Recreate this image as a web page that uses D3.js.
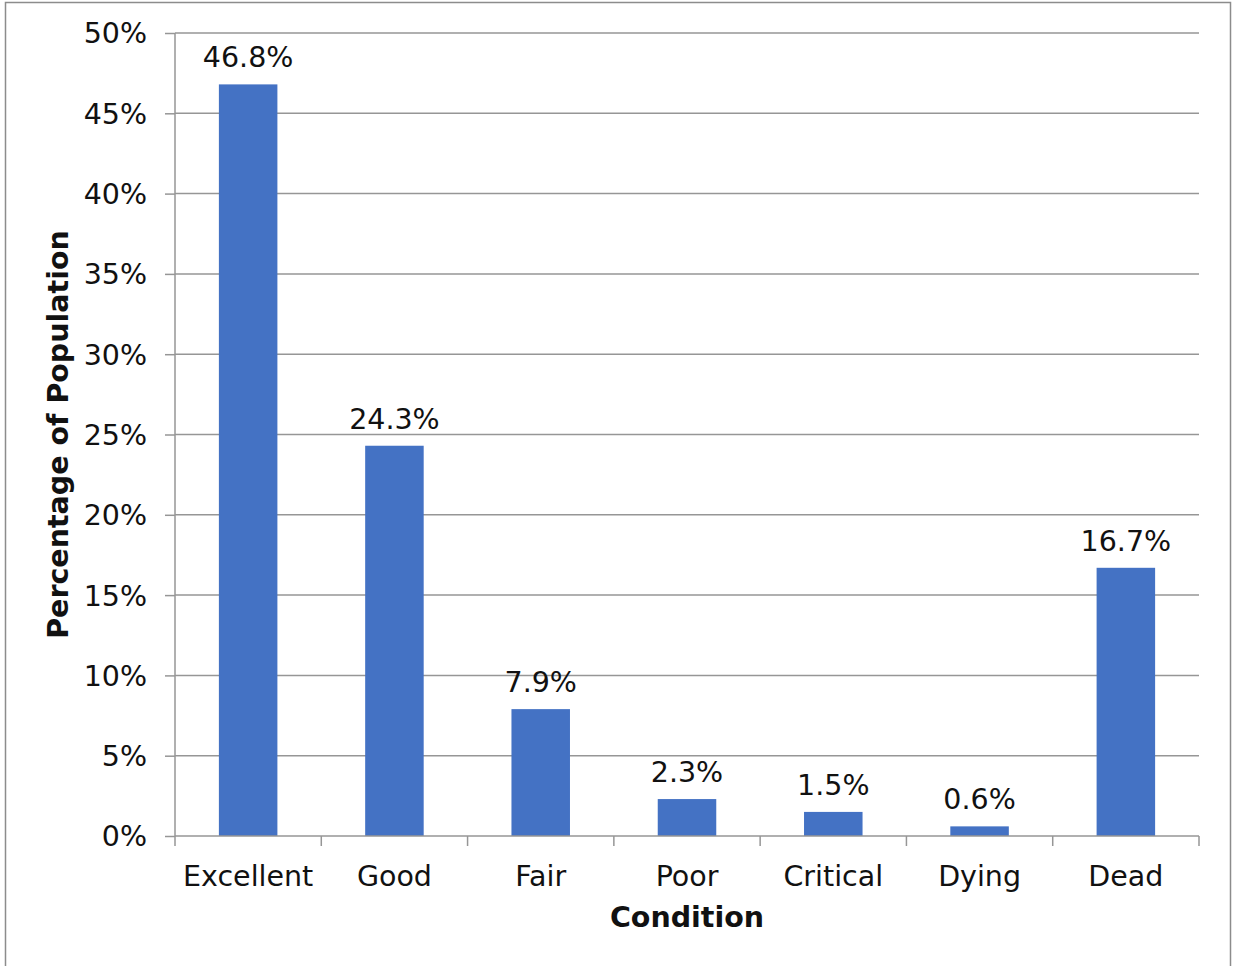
<!DOCTYPE html>
<html>
<head>
<meta charset="utf-8">
<script src="https://cdn.jsdelivr.net/npm/d3@7"></script>
<style>
  body { margin: 0; background: #fff; }
  text { font-family: "DejaVu Sans", Verdana, sans-serif; fill: #111; }
</style>
</head>
<body>
<script>
const width = 1233,
  height = 966;

// data
const conditions = ['Excellent', 'Good', 'Fair', 'Poor', 'Critical', 'Dying', 'Dead'];
const percentages = [46.8, 24.3, 7.9, 2.3, 1.5, 0.6, 16.7];
const yTicks = [0, 5, 10, 15, 20, 25, 30, 35, 40, 45, 50];

const margin = { top: 33, right: 34, bottom: 130, left: 175 };
const fontSize = '28.5px';

const svg = d3
  .select('body')
  .append('svg')
  .attr('width', width)
  .attr('height', height);

// outer chart border (bottom edge runs off the picture)
svg
  .append('rect')
  .attr('x', 5.5)
  .attr('y', 2.5)
  .attr('width', 1225)
  .attr('height', 980)
  .attr('fill', 'none')
  .attr('stroke', '#8c8c8c')
  .attr('stroke-width', 1.5);

const x = d3
  .scaleBand()
  .domain(conditions)
  .range([margin.left, width - margin.right])
  .paddingInner(0.6)
  .paddingOuter(0.3);

const y = d3
  .scaleLinear()
  .domain([0, 50])
  .range([height - margin.bottom, margin.top]);

// gridlines
svg
  .append('g')
  .selectAll('line')
  .data(yTicks.slice(1))
  .join('line')
  .attr('x1', margin.left)
  .attr('x2', width - margin.right)
  .attr('y1', d => y(d))
  .attr('y2', d => y(d))
  .attr('stroke', '#969696')
  .attr('stroke-width', 1.5);

// bars
svg
  .append('g')
  .selectAll('rect')
  .data(percentages)
  .join('rect')
  .attr('x', (d, i) => x(conditions[i]))
  .attr('y', d => y(d))
  .attr('width', x.bandwidth())
  .attr('height', d => y(0) - y(d))
  .attr('fill', '#4472c4');

// value labels
svg
  .append('g')
  .selectAll('text')
  .data(percentages)
  .join('text')
  .attr('x', (d, i) => x(conditions[i]) + x.bandwidth() / 2)
  .attr('y', d => y(d) - 17)
  .attr('text-anchor', 'middle')
  .style('font-size', fontSize)
  .text(d => d.toFixed(1) + '%');

// y axis
const yAxis = svg
  .append('g')
  .attr('transform', `translate(${margin.left},0)`)
  .call(
    d3
      .axisLeft(y)
      .tickValues(yTicks)
      .tickSize(10)
      .tickPadding(18)
      .tickFormat(d => d + '%')
  );
yAxis.selectAll('text').style('font-size', fontSize).attr('dy', '0.35em');

// x axis with ticks between categories
const step = x.step();
const xAxis = svg
  .append('g')
  .attr('transform', `translate(0,${y(0)})`)
  .call(d3.axisBottom(x).tickSize(0).tickPadding(30));
xAxis.selectAll('text').style('font-size', fontSize);
xAxis
  .selectAll('line.sep')
  .data(d3.range(conditions.length + 1))
  .join('line')
  .attr('class', 'sep')
  .attr('x1', i => margin.left + i * step)
  .attr('x2', i => margin.left + i * step)
  .attr('y1', 0)
  .attr('y2', 10);

svg.selectAll('.domain, .tick line, line.sep').attr('stroke', '#969696').attr('stroke-width', 1.5);
xAxis.select('.domain').attr('d', `M${margin.left},0H${width - margin.right}`);
yAxis.select('.domain').attr('d', `M0,${y(50)}V${y(0)}`);

// axis titles
svg
  .append('text')
  .attr('x', (margin.left + width - margin.right) / 2)
  .attr('y', 927)
  .attr('text-anchor', 'middle')
  .style('font-size', fontSize)
  .style('font-weight', 'bold')
  .text('Condition');

svg
  .append('text')
  .attr('transform', `translate(68,${(y(0) + y(50)) / 2}) rotate(-90)`)
  .attr('text-anchor', 'middle')
  .style('font-size', fontSize)
  .style('font-weight', 'bold')
  .text('Percentage of Population');
</script>
</body>
</html>
